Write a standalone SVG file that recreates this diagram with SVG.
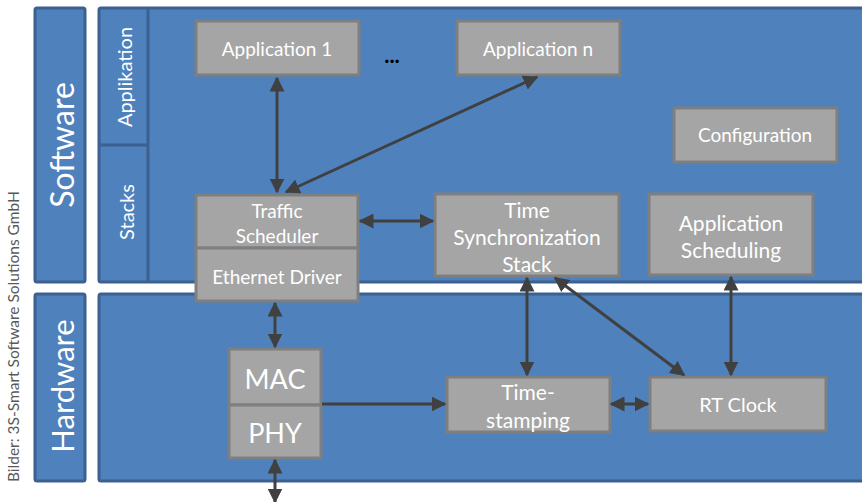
<svg xmlns="http://www.w3.org/2000/svg" width="862" height="502" viewBox="0 0 862 502">
<defs>
<style>
.panel{fill:#4F81BD;stroke:#3C6090;stroke-width:3}
.box{fill:#A5A5A5;stroke:#7F7F7F;stroke-width:3}
.t{font-family:Lato,"Open Sans","Liberation Sans",sans-serif;fill:#FFFFFF;text-anchor:middle}
.c{stroke:#404040;stroke-width:3;fill:none}
</style>
<marker id="ah" viewBox="0 0 10 10" refX="9" refY="5" markerWidth="5" markerHeight="5" orient="auto-start-reverse" markerUnits="strokeWidth">
<path d="M0,0 L10,5 L0,10 z" fill="#404040"/>
</marker>
</defs>
<rect width="862" height="502" fill="#FFFFFF"/>
<text transform="translate(19,482) rotate(-90)" style="font-family:Lato,'Open Sans','Liberation Sans',sans-serif;font-size:15.5px;fill:#595959">Bilder: 3S-Smart Software Solutions GmbH</text>
<g id="software-label">
<rect class="panel" x="35" y="8" width="50" height="274" rx="2"/>
<text class="t" transform="translate(74,145) rotate(-90)" style="font-size:32px">Software</text>
</g>
<g id="hardware-label">
<rect class="panel" x="35" y="294" width="50" height="187" rx="2"/>
<text class="t" transform="translate(74,386) rotate(-90)" style="font-size:31px">Hardware</text>
</g>
<g id="software-panel">
<rect class="panel" x="99" y="8" width="770" height="274" rx="2"/>
<line x1="148" y1="8" x2="148" y2="282" stroke="#3C6090" stroke-width="3"/>
<line x1="99" y1="145" x2="148" y2="145" stroke="#3C6090" stroke-width="3"/>
<text class="t" transform="translate(132,77) rotate(-90)" style="font-size:20px">Applikation</text>
<text class="t" transform="translate(134,212) rotate(-90)" style="font-size:20px">Stacks</text>
</g>
<g id="hardware-panel">
<rect class="panel" x="99" y="294" width="770" height="187" rx="2"/>
</g>
<g id="app1">
<rect class="box" x="196" y="21" width="163" height="54"/>
<text class="t" x="277" y="56" style="font-size:19px">Application 1</text>
</g>
<g id="dots">
<text x="392" y="63" style="font-family:Lato,'Liberation Sans',sans-serif;font-size:22px;font-weight:bold;fill:#000;text-anchor:middle">...</text>
</g>
<g id="appn">
<rect class="box" x="457" y="21" width="163" height="54"/>
<text class="t" x="538" y="56" style="font-size:19px">Application n</text>
</g>
<g id="configuration">
<rect class="box" x="674" y="108" width="163" height="54"/>
<text class="t" x="755" y="142" style="font-size:19px">Configuration</text>
</g>
<g id="traffic-scheduler">
<rect class="box" x="196" y="195" width="162" height="53"/>
<text class="t" x="277" y="218" style="font-size:19px">Traffic</text>
<text class="t" x="277" y="243" style="font-size:19px">Scheduler</text>
</g>
<g id="ethernet-driver">
<rect class="box" x="196" y="248" width="162" height="53"/>
<text class="t" x="277" y="284" style="font-size:19px">Ethernet Driver</text>
</g>
<g id="time-sync">
<rect class="box" x="435" y="194" width="184" height="82"/>
<text class="t" x="527" y="218" style="font-size:21px">Time</text>
<text class="t" x="527" y="245" style="font-size:21px">Synchronization</text>
<text class="t" x="527" y="272" style="font-size:21px">Stack</text>
</g>
<g id="app-scheduling">
<rect class="box" x="649" y="194" width="164" height="81"/>
<text class="t" x="731" y="231" style="font-size:21px">Application</text>
<text class="t" x="731" y="258" style="font-size:21px">Scheduling</text>
</g>
<g id="mac">
<rect class="box" x="229" y="349" width="92" height="56"/>
<text class="t" x="275" y="389" style="font-size:27px">MAC</text>
</g>
<g id="phy">
<rect class="box" x="229" y="405" width="92" height="53"/>
<text class="t" x="275" y="443" style="font-size:27px">PHY</text>
</g>
<g id="time-stamping">
<rect class="box" x="447" y="377" width="163" height="55"/>
<text class="t" x="528" y="400" style="font-size:21px">Time-</text>
<text class="t" x="528" y="428" style="font-size:21px">stamping</text>
</g>
<g id="rt-clock">
<rect class="box" x="650" y="377" width="176" height="54"/>
<text class="t" x="738" y="412" style="font-size:20px">RT Clock</text>
</g>
<g id="connectors">
<line class="c" x1="277" y1="78" x2="277" y2="192" marker-start="url(#ah)" marker-end="url(#ah)"/>
<line class="c" x1="286" y1="192" x2="537" y2="77" marker-start="url(#ah)" marker-end="url(#ah)"/>
<line class="c" x1="360" y1="221" x2="433" y2="221" marker-start="url(#ah)" marker-end="url(#ah)"/>
<line class="c" x1="275" y1="303" x2="275" y2="347" marker-start="url(#ah)" marker-end="url(#ah)"/>
<line class="c" x1="275" y1="460" x2="275" y2="502" marker-start="url(#ah)" marker-end="url(#ah)"/>
<line class="c" x1="322" y1="404" x2="445" y2="404" marker-end="url(#ah)"/>
<line class="c" x1="527" y1="278" x2="527" y2="375" marker-start="url(#ah)" marker-end="url(#ah)"/>
<line class="c" x1="555" y1="278" x2="684" y2="375" marker-start="url(#ah)" marker-end="url(#ah)"/>
<line class="c" x1="731" y1="277" x2="731" y2="375" marker-start="url(#ah)" marker-end="url(#ah)"/>
<line class="c" x1="611" y1="404" x2="648" y2="404" marker-start="url(#ah)" marker-end="url(#ah)"/>
</g>
</svg>
